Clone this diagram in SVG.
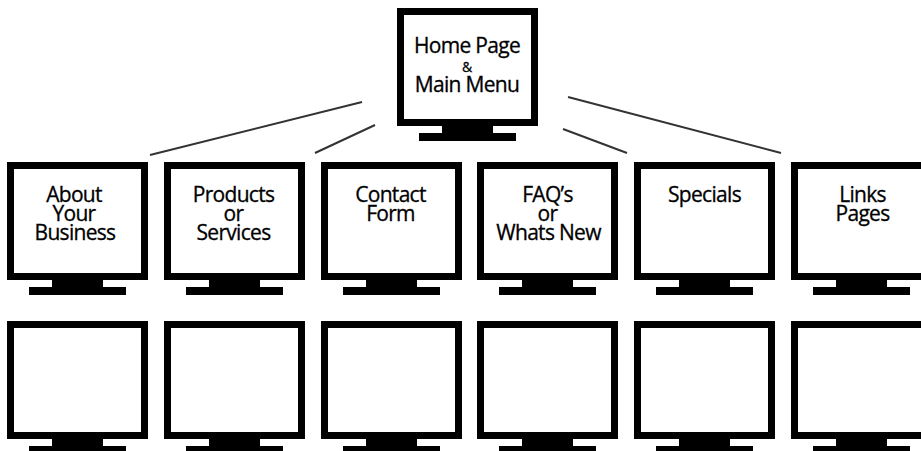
<svg xmlns="http://www.w3.org/2000/svg" xmlns:xlink="http://www.w3.org/1999/xlink" width="921" height="451" viewBox="0 0 921 451">
<style>
.frame{fill:#fff;stroke:#000;stroke-width:7}
.stand{fill:#000}
.lbl{font-family:"Open Sans","Noto Sans",sans-serif;font-size:21px;fill:#000;text-anchor:middle;letter-spacing:-0.7px;stroke:#000;stroke-width:0.3}
.amp{font-size:14px;letter-spacing:0}
.conn{stroke:#333;stroke-width:2;fill:none}
</style>
<defs>
<symbol id="monitor" overflow="visible">
<rect class="frame" x="3.5" y="3.5" width="134" height="111"/>
<rect class="stand" x="45" y="118" width="51" height="8"/>
<rect class="stand" x="22" y="125" width="97" height="8"/>
</symbol>
</defs>
<rect width="921" height="451" fill="#fff"/>
<g id="connectors">
<line class="conn" x1="150" y1="155" x2="362" y2="102"/>
<line class="conn" x1="315" y1="153" x2="375" y2="125"/>
<line class="conn" x1="568" y1="97" x2="781" y2="153"/>
<line class="conn" x1="563" y1="129" x2="627" y2="153"/>
</g>
<g id="home">
<use xlink:href="#monitor" x="397" y="8"/>
<text class="lbl"><tspan x="467" y="53">Home Page</tspan><tspan class="amp" x="467" y="72">&amp;</tspan><tspan x="467" y="92">Main Menu</tspan></text>
</g>
<g id="about">
<use xlink:href="#monitor" x="7" y="162"/>
<text class="lbl"><tspan x="74" y="202">About</tspan><tspan x="74" y="221">Your</tspan><tspan x="75" y="240">Business</tspan></text>
</g>
<g id="products">
<use xlink:href="#monitor" x="164" y="162"/>
<text class="lbl"><tspan x="233.5" y="202">Products</tspan><tspan x="233.5" y="221">or</tspan><tspan x="233.5" y="240">Services</tspan></text>
</g>
<g id="contact">
<use xlink:href="#monitor" x="321" y="162"/>
<text class="lbl"><tspan x="390.5" y="202">Contact</tspan><tspan x="390.5" y="221">Form</tspan></text>
</g>
<g id="faq">
<use xlink:href="#monitor" x="477" y="162"/>
<text class="lbl"><tspan x="547.5" y="202">FAQ’s</tspan><tspan x="547.5" y="221">or</tspan><tspan x="548.5" y="240">Whats New</tspan></text>
</g>
<g id="specials">
<use xlink:href="#monitor" x="634" y="162"/>
<text class="lbl"><tspan x="704.5" y="202">Specials</tspan></text>
</g>
<g id="links">
<use xlink:href="#monitor" x="791" y="162"/>
<text class="lbl"><tspan x="862.5" y="202">Links</tspan><tspan x="862.5" y="221">Pages</tspan></text>
</g>
<g id="sub1"><use xlink:href="#monitor" x="7" y="321"/></g>
<g id="sub2"><use xlink:href="#monitor" x="164" y="321"/></g>
<g id="sub3"><use xlink:href="#monitor" x="321" y="321"/></g>
<g id="sub4"><use xlink:href="#monitor" x="477" y="321"/></g>
<g id="sub5"><use xlink:href="#monitor" x="634" y="321"/></g>
<g id="sub6"><use xlink:href="#monitor" x="791" y="321"/></g>
</svg>
